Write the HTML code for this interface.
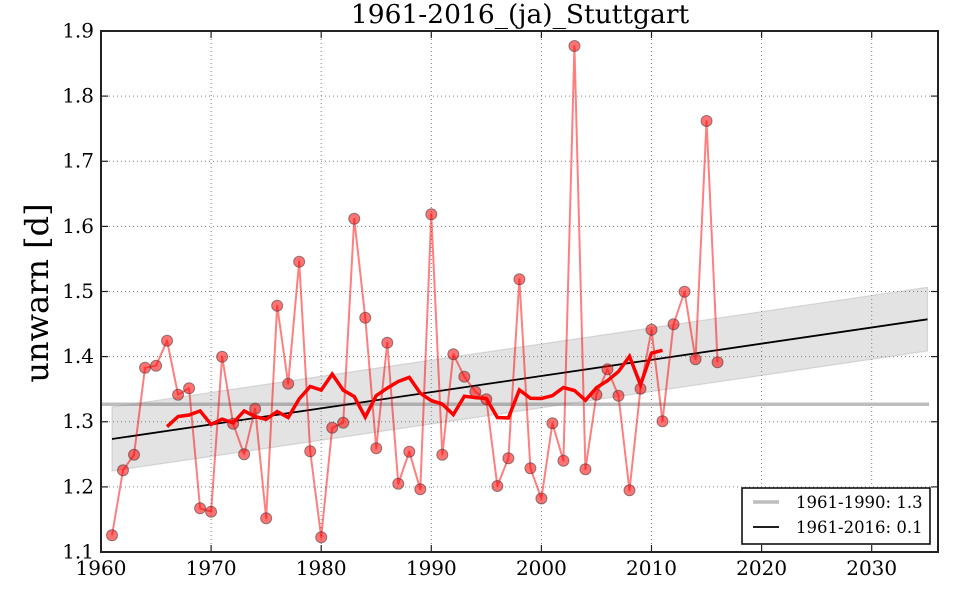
<!DOCTYPE html>
<html><head><meta charset="utf-8"><style>
html,body{margin:0;padding:0;background:#fff;}
svg{display:block;font-family:"DejaVu Serif","Liberation Serif",serif;}
</style></head><body>
<svg width="960" height="600" viewBox="0 0 960 600" xmlns="http://www.w3.org/2000/svg">
<rect x="0" y="0" width="960" height="600" fill="#fff"/>
<!-- grid -->
<g stroke="#808080" stroke-width="1" stroke-dasharray="1,3">
<line x1="211.1" y1="31" x2="211.1" y2="552"/>
<line x1="321.2" y1="31" x2="321.2" y2="552"/>
<line x1="431.3" y1="31" x2="431.3" y2="552"/>
<line x1="541.4" y1="31" x2="541.4" y2="552"/>
<line x1="651.5" y1="31" x2="651.5" y2="552"/>
<line x1="761.6" y1="31" x2="761.6" y2="552"/>
<line x1="871.7" y1="31" x2="871.7" y2="552"/>
<line x1="101" y1="486.9" x2="938" y2="486.9"/>
<line x1="101" y1="421.75" x2="938" y2="421.75"/>
<line x1="101" y1="356.6" x2="938" y2="356.6"/>
<line x1="101" y1="291.5" x2="938" y2="291.5"/>
<line x1="101" y1="226.4" x2="938" y2="226.4"/>
<line x1="101" y1="161.25" x2="938" y2="161.25"/>
<line x1="101" y1="96.1" x2="938" y2="96.1"/>
</g>
<!-- reference mean line -->
<line x1="101" y1="404.3" x2="929" y2="404.3" stroke="#bdbdbd" stroke-width="3.5"/>
<!-- confidence band -->
<polygon points="112,407 927.5,287.3 927.5,351 112,471" fill="rgba(128,128,128,0.22)" stroke="rgba(160,160,160,0.35)" stroke-width="1.2"/>
<!-- trend -->
<line x1="112" y1="439" x2="927.5" y2="319.3" stroke="#000" stroke-width="1.8"/>
<!-- data line -->
<polyline fill="none" stroke="rgba(255,0,0,0.5)" stroke-width="2" stroke-linejoin="round" points="112.01,535.3 123.02,470.3 134.03,454.7 145.04,367.7 156.05,365.7 167.06,340.7 178.07,394.7 189.08,388.3 200.09,508.3 211.1,511.7 222.11,356.7 233.12,423.7 244.13,454.3 255.14,408.7 266.15,518.3 277.16,305.7 288.17,383.7 299.18,261.7 310.19,451.3 321.2,537.3 332.21,427.7 343.22,422.7 354.23,218.7 365.24,317.7 376.25,448.3 387.26,342.7 398.27,483.7 409.28,451.7 420.29,489.3 431.3,214.3 442.31,454.7 453.32,354.3 464.33,376.7 475.34,391.7 486.35,399.3 497.36,486 508.37,458.3 519.38,279.3 530.39,468.3 541.4,498.5 552.41,423.3 563.42,460.7 574.43,46 585.44,469.3 596.45,394.7 607.46,369.3 618.47,395.7 629.48,490.3 640.49,388.7 651.5,329.7 662.51,421.3 673.52,324.3 684.53,291.7 695.54,359.3 706.55,121 717.56,362.3"/>
<!-- markers -->
<g fill="rgba(255,0,0,0.55)" stroke="rgba(60,60,60,0.55)" stroke-width="1">
<circle cx="112.01" cy="535.3" r="5.5"/><circle cx="123.02" cy="470.3" r="5.5"/><circle cx="134.03" cy="454.7" r="5.5"/><circle cx="145.04" cy="367.7" r="5.5"/><circle cx="156.05" cy="365.7" r="5.5"/><circle cx="167.06" cy="340.7" r="5.5"/><circle cx="178.07" cy="394.7" r="5.5"/><circle cx="189.08" cy="388.3" r="5.5"/><circle cx="200.09" cy="508.3" r="5.5"/><circle cx="211.1" cy="511.7" r="5.5"/><circle cx="222.11" cy="356.7" r="5.5"/><circle cx="233.12" cy="423.7" r="5.5"/><circle cx="244.13" cy="454.3" r="5.5"/><circle cx="255.14" cy="408.7" r="5.5"/><circle cx="266.15" cy="518.3" r="5.5"/><circle cx="277.16" cy="305.7" r="5.5"/><circle cx="288.17" cy="383.7" r="5.5"/><circle cx="299.18" cy="261.7" r="5.5"/><circle cx="310.19" cy="451.3" r="5.5"/><circle cx="321.2" cy="537.3" r="5.5"/><circle cx="332.21" cy="427.7" r="5.5"/><circle cx="343.22" cy="422.7" r="5.5"/><circle cx="354.23" cy="218.7" r="5.5"/><circle cx="365.24" cy="317.7" r="5.5"/><circle cx="376.25" cy="448.3" r="5.5"/><circle cx="387.26" cy="342.7" r="5.5"/><circle cx="398.27" cy="483.7" r="5.5"/><circle cx="409.28" cy="451.7" r="5.5"/><circle cx="420.29" cy="489.3" r="5.5"/><circle cx="431.3" cy="214.3" r="5.5"/><circle cx="442.31" cy="454.7" r="5.5"/><circle cx="453.32" cy="354.3" r="5.5"/><circle cx="464.33" cy="376.7" r="5.5"/><circle cx="475.34" cy="391.7" r="5.5"/><circle cx="486.35" cy="399.3" r="5.5"/><circle cx="497.36" cy="486" r="5.5"/><circle cx="508.37" cy="458.3" r="5.5"/><circle cx="519.38" cy="279.3" r="5.5"/><circle cx="530.39" cy="468.3" r="5.5"/><circle cx="541.4" cy="498.5" r="5.5"/><circle cx="552.41" cy="423.3" r="5.5"/><circle cx="563.42" cy="460.7" r="5.5"/><circle cx="574.43" cy="46" r="5.5"/><circle cx="585.44" cy="469.3" r="5.5"/><circle cx="596.45" cy="394.7" r="5.5"/><circle cx="607.46" cy="369.3" r="5.5"/><circle cx="618.47" cy="395.7" r="5.5"/><circle cx="629.48" cy="490.3" r="5.5"/><circle cx="640.49" cy="388.7" r="5.5"/><circle cx="651.5" cy="329.7" r="5.5"/><circle cx="662.51" cy="421.3" r="5.5"/><circle cx="673.52" cy="324.3" r="5.5"/><circle cx="684.53" cy="291.7" r="5.5"/><circle cx="695.54" cy="359.3" r="5.5"/><circle cx="706.55" cy="121" r="5.5"/><circle cx="717.56" cy="362.3" r="5.5"/>
</g>
<!-- running mean -->
<polyline fill="none" stroke="#ff0000" stroke-width="3.5" stroke-linejoin="miter" points="167.06,426.7 178.07,416.5 189.08,415 200.09,410.9 211.1,424.5 222.11,419.1 233.12,422.9 244.13,410.9 255.14,416.6 266.15,419.3 277.16,411.5 288.17,417.5 299.18,398.9 310.19,386.5 321.2,390.1 332.21,374.1 343.22,390.2 354.23,396.5 365.24,417.1 376.25,395.6 387.26,388.1 398.27,381.5 409.28,377.4 420.29,393.2 431.3,400.6 442.31,404.1 453.32,414.6 464.33,396.2 475.34,397.6 486.35,398.5 497.36,417.5 508.37,418 519.38,389.9 530.39,398.3 541.4,398.5 552.41,395.7 563.42,387.5 574.43,390.5 585.44,400.3 596.45,387.7 607.46,380.7 618.47,371.6 629.48,356.4 640.49,384.8 651.5,353.2 662.51,350.3"/>
<!-- ticks -->
<g stroke="#222" stroke-width="1.2">
<line x1="211.1" y1="552" x2="211.1" y2="545"/><line x1="321.2" y1="552" x2="321.2" y2="545"/><line x1="431.3" y1="552" x2="431.3" y2="545"/><line x1="541.4" y1="552" x2="541.4" y2="545"/><line x1="651.5" y1="552" x2="651.5" y2="545"/><line x1="761.6" y1="552" x2="761.6" y2="545"/><line x1="871.7" y1="552" x2="871.7" y2="545"/>
<line x1="211.1" y1="31" x2="211.1" y2="38"/><line x1="321.2" y1="31" x2="321.2" y2="38"/><line x1="431.3" y1="31" x2="431.3" y2="38"/><line x1="541.4" y1="31" x2="541.4" y2="38"/><line x1="651.5" y1="31" x2="651.5" y2="38"/><line x1="761.6" y1="31" x2="761.6" y2="38"/><line x1="871.7" y1="31" x2="871.7" y2="38"/>
<line x1="101" y1="486.9" x2="108" y2="486.9"/><line x1="101" y1="421.75" x2="108" y2="421.75"/><line x1="101" y1="356.6" x2="108" y2="356.6"/><line x1="101" y1="291.5" x2="108" y2="291.5"/><line x1="101" y1="226.4" x2="108" y2="226.4"/><line x1="101" y1="161.25" x2="108" y2="161.25"/><line x1="101" y1="96.1" x2="108" y2="96.1"/>
<line x1="938" y1="486.9" x2="931" y2="486.9"/><line x1="938" y1="421.75" x2="931" y2="421.75"/><line x1="938" y1="356.6" x2="931" y2="356.6"/><line x1="938" y1="291.5" x2="931" y2="291.5"/><line x1="938" y1="226.4" x2="931" y2="226.4"/><line x1="938" y1="161.25" x2="931" y2="161.25"/><line x1="938" y1="96.1" x2="931" y2="96.1"/>
</g>
<!-- spines -->
<rect x="101" y="31" width="837" height="521" fill="none" stroke="#222" stroke-width="2"/>
<!-- legend -->
<rect x="742" y="488" width="188" height="56" fill="#fff" stroke="#111" stroke-width="1.6"/>
<line x1="753" y1="502" x2="779" y2="502" stroke="#bdbdbd" stroke-width="3.5"/>
<line x1="753" y1="527" x2="779" y2="527" stroke="#000" stroke-width="1.8"/>
<g font-size="16.5" fill="#000">
<text x="796" y="508">1961-1990: 1.3</text>
<text x="796" y="533">1961-2016: 0.1</text>
</g>
<!-- tick labels -->
<g font-size="20" fill="#000" text-anchor="middle">
<text x="101" y="575">1960</text><text x="211.1" y="575">1970</text><text x="321.2" y="575">1980</text><text x="431.3" y="575">1990</text><text x="541.4" y="575">2000</text><text x="651.5" y="575">2010</text><text x="761.6" y="575">2020</text><text x="871.7" y="575">2030</text>
</g>
<g font-size="20" fill="#000" text-anchor="end">
<text x="94" y="558.5">1.1</text><text x="94" y="493.4">1.2</text><text x="94" y="428.2">1.3</text><text x="94" y="363.1">1.4</text><text x="94" y="298">1.5</text><text x="94" y="232.9">1.6</text><text x="94" y="167.7">1.7</text><text x="94" y="102.6">1.8</text><text x="94" y="37.5">1.9</text>
</g>
<!-- title -->
<text x="520" y="23" font-size="26.5" text-anchor="middle" fill="#000">1961-2016_(ja)_Stuttgart</text>
<!-- y label -->
<text transform="translate(48,293) rotate(-90)" font-size="32" text-anchor="middle" fill="#000">unwarn [d]</text>
</svg>
</body></html>
